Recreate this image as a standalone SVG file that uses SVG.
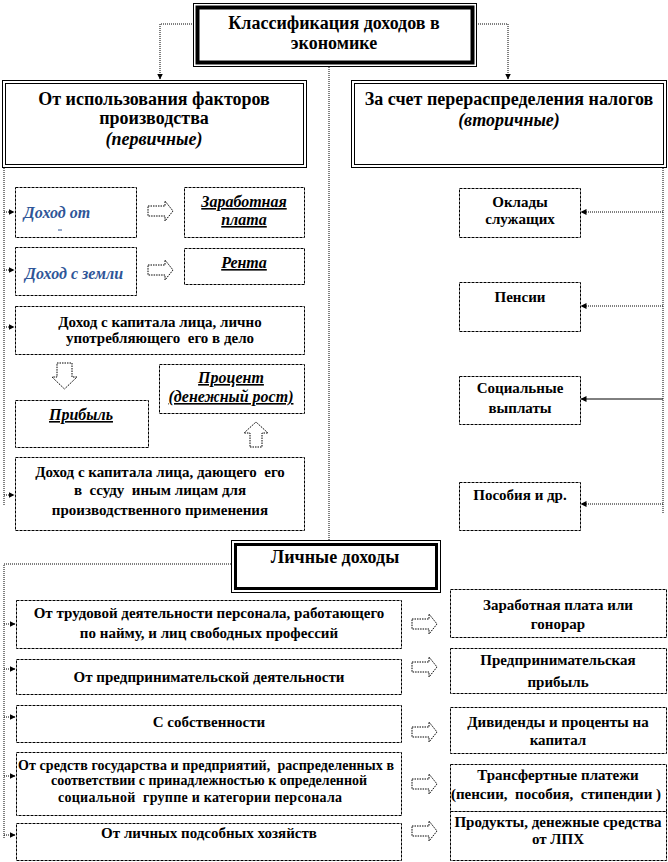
<svg xmlns="http://www.w3.org/2000/svg" width="668" height="862" viewBox="0 0 668 862" font-family="Liberation Serif, Times New Roman, serif">
<defs>
<style>
text{font-family:'Liberation Serif','Times New Roman',serif;font-weight:bold;fill:#000;text-anchor:middle}
.t16{font-size:18px}
.t13{font-size:15px}
.t12{font-size:14px}
.it{font-style:italic;font-size:16px}
.ul{text-decoration:underline}
.blue{fill:#2e5597}
.box{fill:#fff;stroke:#000;stroke-width:1;stroke-dasharray:3 1}
.con{fill:none;stroke:#000;stroke-width:1;stroke-dasharray:1 1}
.blk{fill:#fff;stroke:#000;stroke-width:1;stroke-dasharray:1.5 1}
</style>
<marker id="ah" markerWidth="6" markerHeight="6" refX="5.5" refY="3" orient="auto" markerUnits="userSpaceOnUse">
<path d="M0,0 L6,3 L0,6 Z" fill="#000"/>
</marker>
<path id="rarr" d="M0,5 L17,5 L17,0 L25,10 L17,20 L17,15 L0,15 Z"/>
</defs>
<rect width="668" height="862" fill="#fff"/>

<g id="connectors">
<path class="con" d="M194,24 H160 V79" marker-end="url(#ah)"/>
<path class="con" d="M476,24 H508 V79" marker-end="url(#ah)"/>
<path class="con" d="M329,67 V540"/>
<path class="con" d="M4,168 V505"/>
<path class="con" d="M4,212 H14" marker-end="url(#ah)"/>
<path class="con" d="M4,270 H14" marker-end="url(#ah)"/>
<path class="con" d="M4,327 H14" marker-end="url(#ah)"/>
<path class="con" d="M4,495 H14" marker-end="url(#ah)"/>
<path class="con" d="M663,168 V513"/>
<path class="con" d="M663,212 H581" marker-end="url(#ah)"/>
<path class="con" d="M663,306 H581" marker-end="url(#ah)"/>
<path fill="none" stroke="#000" stroke-width="1" d="M663,399 H581" marker-end="url(#ah)"/>
<path class="con" d="M663,504 H581" marker-end="url(#ah)"/>
<path class="con" d="M231,564 H4 V838"/>
<path class="con" d="M4,624 H15" marker-end="url(#ah)"/>
<path class="con" d="M4,669 H15" marker-end="url(#ah)"/>
<path class="con" d="M4,717 H15" marker-end="url(#ah)"/>
<path class="con" d="M4,776 H15" marker-end="url(#ah)"/>
<path class="con" d="M4,835 H15" marker-end="url(#ah)"/>
<use href="#rarr" class="blk" x="148" y="201"/>
<use href="#rarr" class="blk" x="148" y="260"/>
<path class="blk" d="M57,363 H72 V377 H77 L64.5,389 L52,377 H57 Z"/>
<path class="blk" d="M250,447 H262 V433 H268 L256,422 L244,433 H250 Z"/>
<use href="#rarr" class="blk" x="412" y="614"/>
<use href="#rarr" class="blk" x="412" y="657"/>
<use href="#rarr" class="blk" x="412" y="722"/>
<use href="#rarr" class="blk" x="412" y="774"/>
<use href="#rarr" class="blk" x="412" y="821"/>
</g>

<g id="n-top">
<rect x="193.5" y="3.5" width="283" height="63" fill="#fff" stroke="#000" stroke-width="1"/>
<rect x="197.5" y="7.5" width="275" height="55" fill="none" stroke="#000" stroke-width="4"/>
<text class="t16" x="334" y="29">Классификация доходов в</text>
<text class="t16" x="334" y="49">экономике</text>
</g>

<g id="n-primary">
<rect x="2.5" y="80.5" width="304" height="87" fill="#fff" stroke="#000"/>
<rect x="5.5" y="83.5" width="298" height="81" fill="none" stroke="#000"/>
<text class="t16" x="154" y="105">От использования факторов</text>
<text class="t16" x="154" y="124">производства</text>
<text class="t16 it" x="154" y="145" style="font-size:18px">(первичные)</text>
</g>

<g id="n-secondary">
<rect x="351.5" y="80.5" width="315" height="87" fill="#fff" stroke="#000"/>
<rect x="354.5" y="83.5" width="309" height="81" fill="none" stroke="#000"/>
<text class="t16" x="509" y="105">За счет перераспределения налогов</text>
<text class="t16 it" x="509" y="126" style="font-size:18px">(вторичные)</text>
</g>

<g id="n-dohod-ot">
<rect class="box" x="15.5" y="187.5" width="121" height="50"/>
<text class="it blue" x="57" y="218">Доход от</text>
<line x1="58" y1="230" x2="62" y2="230" stroke="#2e5597"/>
</g>
<g id="n-zarplata">
<rect class="box" x="184.5" y="187.5" width="120" height="50"/>
<text class="it ul" x="244" y="207">Заработная</text>
<text class="it ul" x="244" y="225">плата</text>
</g>
<g id="n-zemlya">
<rect class="box" x="15.5" y="247.5" width="121" height="48"/>
<text class="it blue" x="74" y="279">Доход с земли</text>
</g>
<g id="n-renta">
<rect class="box" x="184.5" y="248.5" width="120" height="36"/>
<text class="it ul" x="244" y="268">Рента</text>
</g>
<g id="n-cap1">
<rect class="box" x="15.5" y="306.5" width="289" height="48"/>
<text class="t13" x="160" y="327">Доход с капитала лица, лично</text>
<text class="t13" x="160" y="343">употребляющего&#160; его в дело</text>
</g>
<g id="n-pribyl">
<rect class="box" x="15.5" y="400.5" width="133" height="47"/>
<text class="it ul" x="81" y="420">Прибыль</text>
</g>
<g id="n-procent">
<rect class="box" x="159.5" y="364.5" width="145" height="49"/>
<text class="it ul" x="231" y="383">Процент</text>
<text class="it ul" x="231" y="402">(денежный рост)</text>
</g>
<g id="n-cap2">
<rect class="box" x="15.5" y="457.5" width="289" height="73"/>
<text class="t13" x="160" y="477">Доход с капитала лица, дающего&#160; его</text>
<text class="t13" x="160" y="495">в&#160; ссуду&#160; иным лицам для</text>
<text class="t13" x="160" y="515">производственного применения</text>
</g>

<g id="n-oklady">
<rect class="box" x="459.5" y="188.5" width="121" height="49"/>
<text class="t13" x="520" y="207">Оклады</text>
<text class="t13" x="520" y="224">служащих</text>
</g>
<g id="n-pensii">
<rect class="box" x="459.5" y="282.5" width="121" height="49"/>
<text class="t13" x="520" y="302">Пенсии</text>
</g>
<g id="n-soc">
<rect class="box" x="459.5" y="376.5" width="121" height="48"/>
<text class="t13" x="520" y="393">Социальные</text>
<text class="t13" x="520" y="413">выплаты</text>
</g>
<g id="n-posobiya">
<rect class="box" x="459.5" y="482.5" width="121" height="48"/>
<text class="t13" x="520" y="500">Пособия и др.</text>
</g>

<g id="n-lichnye">
<rect x="231.5" y="540.5" width="209" height="52" fill="#fff" stroke="#000" stroke-width="1"/>
<rect x="235.5" y="544.5" width="201" height="44" fill="none" stroke="#000" stroke-width="3"/>
<text class="t16" x="335" y="563">Личные доходы</text>
</g>

<g id="n-trud">
<rect class="box" x="16.5" y="600.5" width="385" height="48"/>
<text class="t13" x="209" y="618">От трудовой деятельности персонала, работающего</text>
<text class="t13" x="209" y="638">по найму, и лиц свободных профессий</text>
</g>
<g id="n-zp2">
<rect class="box" x="450.5" y="589.5" width="216" height="48"/>
<text class="t13" x="558" y="610">Заработная плата или</text>
<text class="t13" x="558" y="629">гонорар</text>
</g>
<g id="n-predpr">
<rect class="box" x="16.5" y="659.5" width="385" height="35"/>
<text class="t13" x="209" y="682">От предпринимательской деятельности</text>
</g>
<g id="n-predpr-prib">
<rect class="box" x="450.5" y="648.5" width="216" height="45"/>
<text class="t13" x="558" y="665">Предпринимательская</text>
<text class="t13" x="558" y="687">прибыль</text>
</g>
<g id="n-sobstv">
<rect class="box" x="16.5" y="705.5" width="385" height="37"/>
<text class="t13" x="209" y="727">С собственности</text>
</g>
<g id="n-divid">
<rect class="box" x="450.5" y="707.5" width="216" height="46"/>
<text class="t13" x="558" y="727">Дивиденды и проценты на</text>
<text class="t13" x="558" y="745">капитал</text>
</g>
<g id="n-gos">
<rect class="box" x="16.5" y="752.5" width="385" height="63"/>
<text class="t12" x="206" y="770" textLength="376">От средств государства и предприятий,&#160; распределенных в</text>
<text class="t12" x="209" y="785" textLength="316">соответствии с принадлежностью к определенной</text>
<text class="t12" x="200" y="802" textLength="284">социальной&#160; группе и категории персонала</text>
</g>
<g id="n-transfer">
<rect class="box" x="450.5" y="764.5" width="216" height="47"/>
<text class="t13" x="558" y="780">Трансфертные платежи</text>
<text class="t13" x="556" y="799">(пенсии,&#160; пособия,&#160; стипендии )</text>
</g>
<g id="n-lph">
<rect class="box" x="16.5" y="823.5" width="385" height="37"/>
<text class="t13" x="209" y="838">От личных подсобных хозяйств</text>
</g>
<g id="n-produkty">
<rect class="box" x="450.5" y="811.5" width="216" height="49"/>
<text class="t13" x="558" y="827">Продукты, денежные средства</text>
<text class="t13" x="558" y="844">от ЛПХ</text>
</g>
</svg>
